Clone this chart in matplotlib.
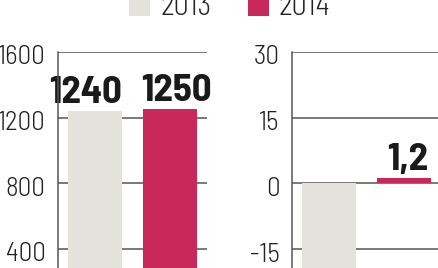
import matplotlib
matplotlib.use("Agg")
import matplotlib.pyplot as plt
from matplotlib.patches import Rectangle
from matplotlib.transforms import offset_copy

# Data
years = ["2013", "2014"]
left_values = [1240, 1250]
left_labels = ["1240", "1250"]
right_values = [-25, 1.2]
right_labels = ["", "1,2"]
left_ticks = [400, 800, 1200, 1600]
right_ticks = [-15, 0, 15, 30]

colors = ["#e3e3dc", "#c8285a"]
line_col = "#555555"
font = ["Barlow Semi Condensed", "DejaVu Sans"]

plt.rcParams["font.family"] = font

W, H = 439, 268
fig = plt.figure(figsize=(W / 100, H / 100), dpi=100)


def panel(x0, ylim, values, labels, ticks, label_dx):
    ax = fig.add_axes([x0 / W, 0, 149 / W, 1 - 52 / H])
    ax.set_axisbelow(True)
    ax.bar(range(len(values)), values, width=0.72, color=colors, zorder=2)
    ax.set_xlim(-0.5, 1.5)
    ax.set_ylim(*ylim)
    ax.set_yticks(ticks)
    ax.set_yticklabels([str(t) for t in ticks], fontweight=300)
    ax.set_xticks([])
    ax.tick_params(axis="y", length=0, pad=9, labelsize=19.5, labelcolor="#222222")
    # labels sit a little below their grid line in the original
    for t in ax.get_yticklabels():
        t.set_transform(offset_copy(t.get_transform(), fig=fig, y=-3, units="dots"))
    ax.grid(axis="y", color=line_col, linewidth=1.1, zorder=0)
    for s in ["right", "bottom", "top"]:
        ax.spines[s].set_visible(False)
    ax.spines["left"].set_color(line_col)
    ax.spines["left"].set_linewidth(1.1)
    ax.spines["left"].set_zorder(6)
    for i, (v, lab) in enumerate(zip(values, labels)):
        if lab:
            ax.annotate(lab, (i, v), xytext=(label_dx[i], 6), textcoords="offset points",
                        ha="center", va="baseline", fontsize=28, fontweight=700,
                        color="#1a1a1a", zorder=5, annotation_clip=False)
    return ax


panel(58, (284, 1600), left_values, left_labels, left_ticks, [-7, 5])
panel(292, (-19.3, 30), right_values, right_labels, right_ticks, [0, 3])

# legend at the top
for x_box, x_txt, lab, c in [(129, 161, years[0], colors[0]),
                             (248, 279, years[1], colors[1])]:
    fig.add_artist(Rectangle((x_box / W, 1 - 16 / H), 21 / W, 20 / H,
                             transform=fig.transFigure, color=c, lw=0))
    fig.text(x_txt / W, 1 - 15 / H, lab, fontsize=21.5, fontweight=300,
             color="#222222", ha="left", va="baseline")

fig.savefig("out.png", dpi=100)
